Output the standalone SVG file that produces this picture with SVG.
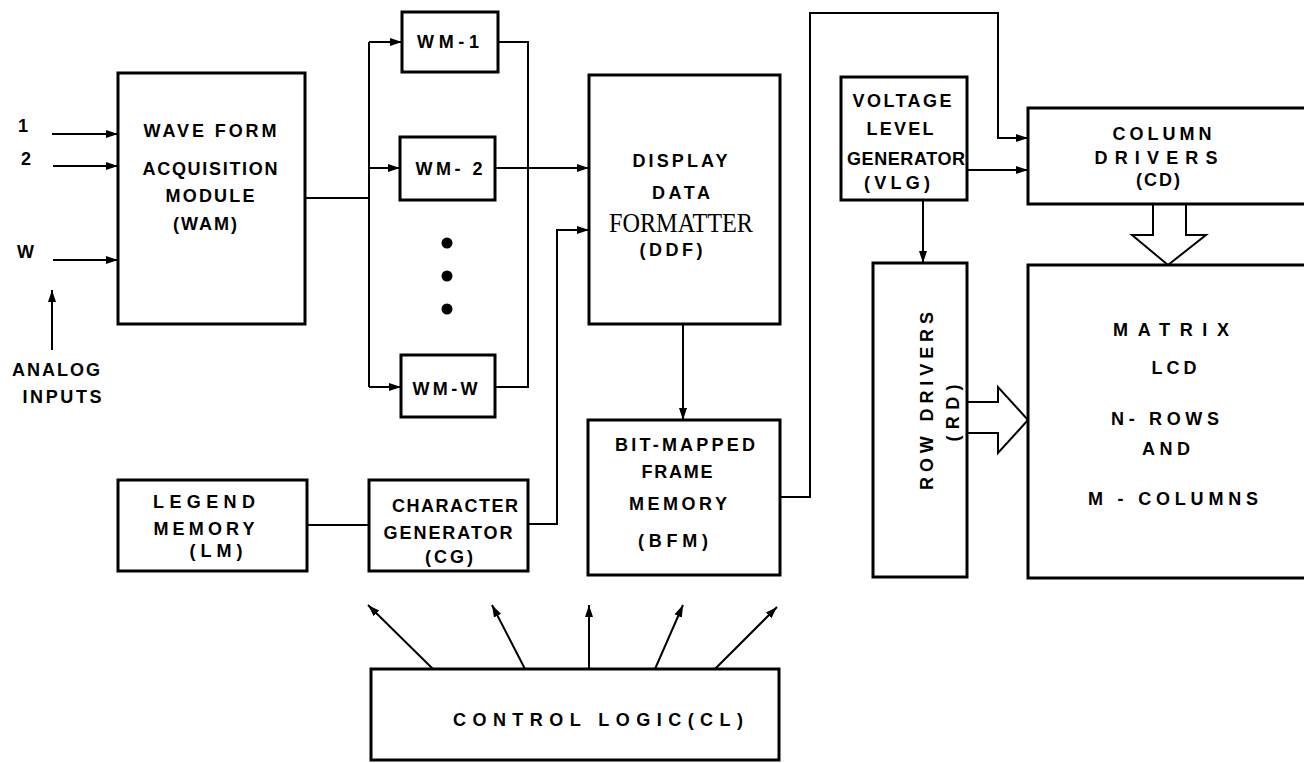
<svg xmlns="http://www.w3.org/2000/svg" width="1304" height="763" viewBox="0 0 1304 763">
<style>
.box{fill:#fff;stroke:#000;stroke-width:3}
.ln{fill:none;stroke:#000;stroke-width:2}
.ar{fill:none;stroke:#000;stroke-width:2;marker-end:url(#ah)}
.hol{fill:#fff;stroke:#000;stroke-width:2}
text{font-family:"Liberation Sans",Arial,sans-serif;font-weight:bold;font-size:18px;fill:#000;text-anchor:middle}
.ser{font-family:"Liberation Serif","Times New Roman",serif;font-weight:normal;font-size:28px}
.st{text-anchor:start}
</style>
<defs>
<marker id="ah" viewBox="0 0 12 8" refX="12" refY="4" markerWidth="12" markerHeight="8" markerUnits="userSpaceOnUse" orient="auto">
<path d="M0,0 L12,4 L0,8 Z" fill="#000"/>
</marker>
</defs>
<rect width="1304" height="763" fill="#fff"/>

<g id="connectors">
<line class="ar" x1="52" y1="134" x2="118" y2="134"/>
<line class="ar" x1="53" y1="166" x2="118" y2="166"/>
<line class="ar" x1="53" y1="260" x2="118" y2="260"/>
<line class="ar" x1="52" y1="350" x2="52" y2="290"/>
<polyline class="ln" points="305,198 369,198"/>
<polyline class="ln" points="369,42 369,387"/>
<line class="ar" x1="369" y1="42" x2="402" y2="42"/>
<line class="ar" x1="369" y1="168" x2="400" y2="168"/>
<line class="ar" x1="369" y1="387" x2="401" y2="387"/>
<polyline class="ln" points="498,42 528,42 528,387 495,387"/>
<line class="ar" x1="495" y1="168" x2="589" y2="168"/>
<polyline class="ar" points="528,524 557,524 557,230 589,230"/>
<line class="ln" x1="307" y1="525" x2="369" y2="525"/>
<line class="ar" x1="683" y1="324" x2="683" y2="420"/>
<polyline class="ar" points="780,497 810,497 810,13 998,13 998,138 1028,138"/>
<line class="ar" x1="967" y1="170" x2="1028" y2="170"/>
<line class="ar" x1="923" y1="200" x2="923" y2="263"/>
<line class="ar" x1="433" y1="669" x2="368" y2="605"/>
<line class="ar" x1="525" y1="669" x2="492" y2="605"/>
<line class="ar" x1="589" y1="669" x2="589" y2="605"/>
<line class="ar" x1="655" y1="669" x2="683" y2="605"/>
<line class="ar" x1="715" y1="669" x2="777" y2="607"/>
<path class="hol" d="M1153,204 L1153,235 L1132,235 L1168,265 L1206,235 L1186,235 L1186,204"/>
<path class="hol" d="M968,402 L998,402 L998,387 L1028,420 L998,453 L998,433 L968,433"/>
</g>

<g id="inputs">
<text class="st" x="18" y="132">1</text>
<text class="st" x="21" y="165">2</text>
<text class="st" x="17" y="258">W</text>
<text x="56" y="376" textLength="88" lengthAdjust="spacing">ANALOG</text>
<text x="62" y="403" textLength="79" lengthAdjust="spacing">INPUTS</text>
</g>

<g id="wam">
<rect class="box" x="118" y="73" width="187" height="251"/>
<text x="210" y="137" textLength="133" lengthAdjust="spacing">WAVE FORM</text>
<text x="210" y="175" textLength="135" lengthAdjust="spacing">ACQUISITION</text>
<text x="210" y="202" textLength="89" lengthAdjust="spacing">MODULE</text>
<text x="205" y="230" textLength="64" lengthAdjust="spacing">(WAM)</text>
</g>

<g id="wm1">
<rect class="box" x="402" y="12" width="96" height="60"/>
<text x="448" y="48" textLength="62" lengthAdjust="spacing">WM-1</text>
</g>
<g id="wm2">
<rect class="box" x="400" y="137" width="95" height="63"/>
<text x="449" y="175" textLength="67" lengthAdjust="spacing">WM- 2</text>
</g>
<g id="dots">
<circle cx="447" cy="243" r="5.5"/>
<circle cx="447" cy="276" r="5.5"/>
<circle cx="447" cy="309" r="5.5"/>
</g>
<g id="wmw">
<rect class="box" x="401" y="355" width="94" height="62"/>
<text x="445" y="395" textLength="65" lengthAdjust="spacing">WM-W</text>
</g>

<g id="ddf">
<rect class="box" x="589" y="75" width="191" height="249"/>
<text x="680" y="167" textLength="95" lengthAdjust="spacing">DISPLAY</text>
<text x="681" y="199" textLength="58" lengthAdjust="spacing">DATA</text>
<text class="ser" x="681" y="232" textLength="144" lengthAdjust="spacingAndGlyphs">FORMATTER</text>
<text x="671" y="256" textLength="63" lengthAdjust="spacing">(DDF)</text>
</g>

<g id="bfm">
<rect class="box" x="588" y="420" width="192" height="155"/>
<text x="685" y="451" textLength="140" lengthAdjust="spacing">BIT-MAPPED</text>
<text x="677" y="478" textLength="71" lengthAdjust="spacing">FRAME</text>
<text x="678" y="510" textLength="98" lengthAdjust="spacing">MEMORY</text>
<text x="673" y="547" textLength="70" lengthAdjust="spacing">(BFM)</text>
</g>

<g id="vlg">
<rect class="box" x="841" y="77" width="126" height="123"/>
<text x="902" y="107" textLength="99" lengthAdjust="spacing">VOLTAGE</text>
<text x="900" y="135" textLength="67" lengthAdjust="spacing">LEVEL</text>
<text x="906" y="165" textLength="118" lengthAdjust="spacing">GENERATOR</text>
<text x="897" y="189" textLength="66" lengthAdjust="spacing">(VLG)</text>
</g>

<g id="rd">
<rect class="box" x="873" y="263" width="94" height="314"/>
<text transform="translate(933,401) rotate(-90)" x="0" y="0" textLength="178" lengthAdjust="spacing">ROW DRIVERS</text>
<text transform="translate(959,413) rotate(-90)" x="0" y="0" textLength="57" lengthAdjust="spacing">(RD)</text>
</g>

<g id="cd">
<rect class="box" x="1028" y="108" width="300" height="96"/>
<text x="1162" y="140" textLength="99" lengthAdjust="spacing">COLUMN</text>
<text x="1156" y="164" textLength="123" lengthAdjust="spacing">DRIVERS</text>
<text x="1158" y="186" textLength="44" lengthAdjust="spacing">(CD)</text>
</g>

<g id="lcd">
<rect class="box" x="1028" y="265" width="300" height="313"/>
<text x="1171" y="336" textLength="116" lengthAdjust="spacing">MATRIX</text>
<text x="1174" y="374" textLength="45" lengthAdjust="spacing">LCD</text>
<text x="1165" y="425" textLength="108" lengthAdjust="spacing">N- ROWS</text>
<text x="1166" y="455" textLength="48" lengthAdjust="spacing">AND</text>
<text x="1173" y="505" textLength="170" lengthAdjust="spacing">M - COLUMNS</text>
</g>

<g id="lm">
<rect class="box" x="118" y="480" width="189" height="91"/>
<text x="204" y="508" textLength="102" lengthAdjust="spacing">LEGEND</text>
<text x="204" y="535" textLength="101" lengthAdjust="spacing">MEMORY</text>
<text x="216" y="557" textLength="53" lengthAdjust="spacing">(LM)</text>
</g>

<g id="cg">
<rect class="box" x="369" y="480" width="159" height="91"/>
<text x="455" y="512" textLength="126" lengthAdjust="spacing">CHARACTER</text>
<text x="448" y="539" textLength="129" lengthAdjust="spacing">GENERATOR</text>
<text x="449" y="563" textLength="48" lengthAdjust="spacing">(CG)</text>
</g>

<g id="cl">
<rect class="box" x="371" y="669" width="408" height="91"/>
<text x="598" y="726" textLength="290" lengthAdjust="spacing">CONTROL LOGIC(CL)</text>
</g>
</svg>
